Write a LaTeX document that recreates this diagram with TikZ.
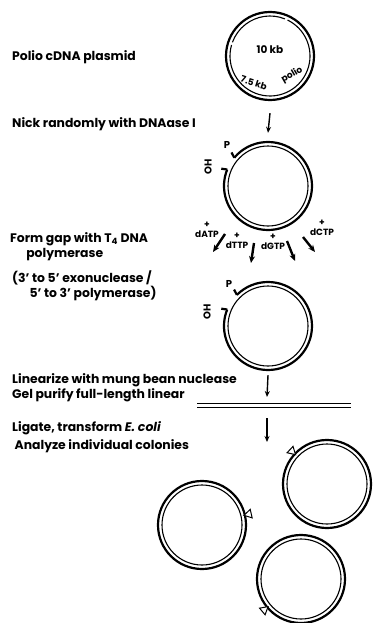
\documentclass[tikz,border=0pt]{standalone}
\usepackage{fontspec}
\setmainfont{Poppins}
\usetikzlibrary{arrows.meta,shapes.geometric}

\begin{document}
\begin{tikzpicture}[x=1pt, y=1pt,
        stage/.style={font=\bfseries\fontsize{12.4}{15}\selectfont, anchor=north west, align=left, inner sep=0pt},
        ring/.style={circle, draw, line width=2.2pt, minimum size=88pt, inner sep=0pt},
        bare/.style={circle, minimum size=88pt, inner sep=0pt},
        strand/.style={line width=1.1pt},
        thickstrand/.style={line width=2.2pt},
        flow/.style={-{Stealth[length=6pt,width=5pt]}, line width=1.4pt},
        feed/.style={-{Stealth[length=7pt,width=6pt]}, line width=2.4pt},
        nuc/.style={font=\bfseries\fontsize{9}{9.5}\selectfont, align=center, inner sep=0pt},
        end/.style={font=\bfseries\fontsize{10}{10}\selectfont, inner sep=0pt},
        site/.style={regular polygon, regular polygon sides=3, draw, fill=white, line width=1pt, minimum size=10pt, inner sep=0pt}
    ]

    \useasboundingbox (0,0) rectangle (375,-623);

    % ---- STEP LABELS ----
    \node[stage] (plasmid) at (12,-50) {Polio cDNA plasmid};
    \node[stage] (nick) at (12,-117) {Nick randomly with DNAase I};
    \node[stage] (gap) at (10,-232) {Form gap with T\textsubscript{4} DNA\\\hspace*{1.3em}polymerase};
    \node[stage] (exo) at (12,-271) {(3' to 5' exonuclease /\\\hspace*{1.4em}5' to 3' polymerase)};
    \node[stage] (linearize) at (12,-373) {Linearize with mung bean nuclease\\Gel purify full-length linear};
    \node[stage, font=\bfseries\fontsize{12.4}{18}\selectfont] (ligate) at (12,-421) {Ligate, transform \textit{E. coli}\\\hspace*{0.2em}Analyze individual colonies};

    % ---- PLASMID ----
    \node[ring] (p1) at (270,-56) {};
    \draw[strand] ([shift={(68:40)}]p1.center) arc (68:160:40);
    \draw[strand] ([shift={(164:40)}]p1.center) arc (164:424:40);
    \node[end, font=\bfseries\fontsize{10.5}{10.5}\selectfont] (size) at ([yshift=6]p1.center) {10 kb};
    \node[end, font=\bfseries\fontsize{9}{9}\selectfont, rotate=-18] (polio1) at (254,-83) {7.5 kb};
    \node[end, font=\bfseries\fontsize{9}{9}\selectfont, rotate=30] (polio2) at (292,-75) {polio};

    % ---- NICKED ----
    \node[bare] (p2) at (268,-186) {};
    \draw[strand] (p2.center) circle (40);
    \draw[thickstrand] ([shift={(140:44)}]p2.center) arc (140:-202:44);
    \draw[thickstrand] ([shift={(140:44)}]p2.center) -- ++(118:6);
    \draw[thickstrand] ([shift={(158:44)}]p2.center) -- ++(172:6);
    \node[end] (p2p) at (227,-145) {P};
    \node[end, rotate=90] (p2oh) at (208,-167) {OH};

    % ---- dNTPs ----
    \node[nuc] (datp) at (207,-230) {+\\dATP};
    \node[nuc] (dttp) at (237,-241) {+\\dTTP};
    \node[nuc] (dgtp) at (273,-242) {+\\dGTP};
    \node[nuc] (dctp) at (322,-228) {+\\dCTP};
    \coordinate (fa1) at (225,-234); \coordinate (fa2) at (213,-252);
    \coordinate (ft1) at (254,-243); \coordinate (ft2) at (251,-263);
    \coordinate (fg1) at (287,-241); \coordinate (fg2) at (295,-261);
    \coordinate (fc1) at (303,-237); \coordinate (fc2) at (315,-252);
    \draw[feed] (fa1) -- (fa2);
    \draw[feed] (ft1) -- (ft2);
    \draw[feed] (fg1) -- (fg2);
    \draw[feed] (fc1) -- (fc2);

    % ---- GAPPED ----
    \node[bare] (p3) at (268,-326) {};
    \draw[strand] (p3.center) circle (40);
    \draw[thickstrand] ([shift={(135:44)}]p3.center) arc (135:-202:44);
    \draw[thickstrand] ([shift={(135:44)}]p3.center) -- ++(118:6);
    \draw[thickstrand] ([shift={(158:44)}]p3.center) -- ++(172:6);
    \node[end] (p3p) at (229,-284) {P};
    \node[end, rotate=90] (p3oh) at (207,-312) {OH};

    % ---- LINEAR ----
    \coordinate (linl) at (197,-403);
    \coordinate (linm) at (267,-403);
    \coordinate (linr) at (351,-403);
    \draw[line width=0.7pt] (linl) -- (linr);
    \draw[line width=1.6pt] ([yshift=-4.5]linl) -- ([yshift=-4.5]linr);

    % ---- COLONIES ----
    \node[ring] (c1) at (327,-484) {};
    \draw[strand] (c1.center) circle (40);
    \node[site, rotate=227] (s1) at ([shift={(137:48)}]c1.center) {};
    \node[ring] (c2) at (202,-525) {};
    \draw[strand] (c2.center) circle (40);
    \node[site, rotate=103] (s2) at ([shift={(13:48)}]c2.center) {};
    \node[ring] (c3) at (301,-579) {};
    \draw[strand] (c3.center) circle (40);
    \node[site, rotate=310] (s3) at ([shift={(220:48)}]c3.center) {};

    % ---- ARROWS ----
    \draw[flow] ([yshift=-12]p1.south) -- ([yshift=9]p2.north);
    \draw[flow] ([yshift=-5]p3.south) -- ([yshift=6]linm);
    \draw[flow] ([yshift=-15]linm) -- ([yshift=-39]linm);

\end{tikzpicture}
\end{document}
